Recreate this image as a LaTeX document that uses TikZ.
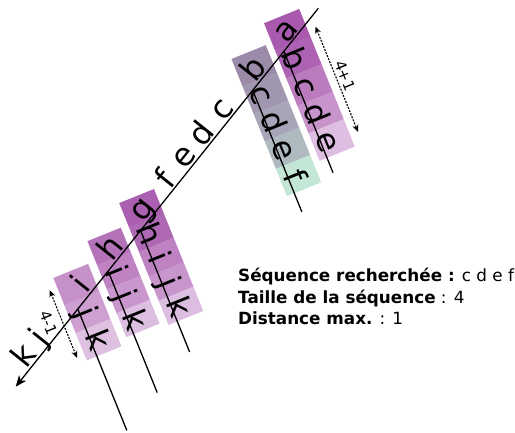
\documentclass[tikz,border=0pt]{standalone}
\usepackage{fontspec}
\setmainfont{DejaVu Sans}
\usetikzlibrary{arrows.meta}
\definecolor{pa}{HTML}{A95AAE}
\definecolor{pb}{HTML}{AE62B3}
\definecolor{pc}{HTML}{BB7BBF}
\definecolor{pd}{HTML}{C994CC}
\definecolor{pe}{HTML}{DFBFE1}
\definecolor{qb}{HTML}{9B8AA8}
\definecolor{qc}{HTML}{A096AF}
\definecolor{qd}{HTML}{A8A5B9}
\definecolor{qe}{HTML}{AFB9C0}
\definecolor{qf}{HTML}{C3E6D7}
\definecolor{rg}{HTML}{AA5FB0}
\definecolor{rh}{HTML}{AF69B4}
\definecolor{ri}{HTML}{BE82C3}
\definecolor{rj}{HTML}{C896CD}
\definecolor{rk}{HTML}{DCBEE1}
\definecolor{sh}{HTML}{B473B9}
\definecolor{si}{HTML}{BF83C3}
\definecolor{sj}{HTML}{C997CD}
\definecolor{sk}{HTML}{DCBEE0}
\definecolor{ti}{HTML}{C591C8}
\definecolor{tj}{HTML}{CDA0D1}
\definecolor{tk}{HTML}{DEC0E1}
\begin{document}
\begin{tikzpicture}[x=1pt,y=1pt,
  lett/.style={font=\fontsize{32}{32}\selectfont, inner sep=0pt, anchor=base},
  mlet/.style={lett, rotate=51.35},
  clet/.style={lett, rotate=-68},
  axisline/.style={line width=1.3pt},
  gaparrow/.style={line width=1.1pt, dash pattern=on 2pt off 1.3pt,
    {Stealth[length=7pt,width=6pt]}-{Stealth[length=7pt,width=6pt]}},
  gaplab/.style={font=\fontsize{15}{15}\selectfont, inner sep=0pt, anchor=base, rotate=-68},
  info/.style={font=\fontsize{16.8}{20}\selectfont, inner sep=0pt, anchor=base west}
]
\useasboundingbox (0,0) rectangle (515,-432);

% main axis frame
\begin{scope}[shift={(318.3,-8.3)}, rotate=231.35]
  \coordinate (T) at (0,0);
  \coordinate (B) at (484.5,0);
  \coordinate (J1) at (55,0);
  \coordinate (J2) at (105,0);
  \coordinate (J3) at (284.6,0);
  \coordinate (J4) at (336.5,0);
  \coordinate (J5) at (385.1,0);
\end{scope}

% column 1 (a b c d e)
\begin{scope}[shift={(J1)}, rotate=-68]
  \fill[pa] (-33.5,-8) rectangle (-3.6,30);
  \fill[pb] (-3.8,-8) rectangle (26.1,30);
  \fill[pc] (25.9,-8) rectangle (55.8,30);
  \fill[pd] (55.6,-8) rectangle (85.5,30);
  \fill[pe] (85.3,-8) rectangle (115,30);
  \coordinate (E1) at (131,0);
  \coordinate (A1s) at (-11,38.5);
  \coordinate (A1e) at (102.4,38.5);
\end{scope}
% column 2 (b c d e f)
\begin{scope}[shift={(J2)}, rotate=-68]
  \fill[qb] (-37,-8) rectangle (-7.2,29);
  \fill[qc] (-7.4,-8) rectangle (22.4,29);
  \fill[qd] (22.2,-8) rectangle (52,29);
  \fill[qe] (51.8,-8) rectangle (81.6,29);
  \fill[qf] (81.4,-8) rectangle (111,29);
  \coordinate (E2) at (131,0);
\end{scope}
% column 3 (g h i j k)
\begin{scope}[shift={(J3)}, rotate=-68]
  \fill[rg] (-33.5,-9.5) rectangle (-7,28);
  \fill[rh] (-7.2,-9.5) rectangle (19.4,28);
  \fill[ri] (19.2,-9.5) rectangle (45.7,28);
  \fill[rj] (45.5,-9.5) rectangle (72,28);
  \fill[rk] (71.8,-9.5) rectangle (98,28);
  \coordinate (E3) at (131,0);
\end{scope}
% column 4 (h i j k)
\begin{scope}[shift={(J4)}, rotate=-68]
  \fill[sh] (-35.5,-8) rectangle (-9.4,28);
  \fill[si] (-9.6,-8) rectangle (16.5,28);
  \fill[sj] (16.3,-8) rectangle (42.3,28);
  \fill[sk] (42.1,-8) rectangle (68,28);
  \coordinate (E4) at (131,0);
\end{scope}
% column 5 (i j k)
\begin{scope}[shift={(J5)}, rotate=-68]
  \fill[ti] (-38,-11) rectangle (-8.1,26.5);
  \fill[tj] (-8.3,-11) rectangle (21.6,26.5);
  \fill[tk] (21.4,-11) rectangle (51,26.5);
  \coordinate (E5) at (131,0);
  \coordinate (A5s) at (-28,-19);
  \coordinate (A5e) at (45,-19);
\end{scope}

% lines
\draw[axisline,-{Stealth[length=11pt,width=9pt,inset=3pt]}] (T) -- (B);
\draw[axisline] (J1) -- (E1);
\draw[axisline] (J2) -- (E2);
\draw[axisline] (J3) -- (E3);
\draw[axisline] (J4) -- (E4);
\draw[axisline] (J5) -- (E5);
\draw[gaparrow] (A1s) -- (A1e);
\draw[gaparrow] (A5s) -- (A5e);

% main letters
\begin{scope}[shift={(318.3,-8.3)}, rotate=231.35]
  \node[mlet] (ma) at (37.7,-2) {a};
  \node[mlet] (mb) at (88.2,-2) {b};
  \node[mlet] (mc) at (138.7,-2) {c};
  \node[mlet] (md) at (170.8,-2) {d};
  \node[mlet] (me) at (199.6,-2) {e};
  \node[mlet] (mf) at (228.8,-2) {f};
  \node[mlet] (mg) at (267.1,-2) {g};
  \node[mlet] (mh) at (316.5,-2) {h};
  \node[mlet] (mi) at (363.5,-2) {i};
  \node[mlet] (mj) at (431.8,-2) {j};
  \node[mlet] (mk) at (455,-2) {k};
\end{scope}

% column letters
\begin{scope}[shift={(J1)}, rotate=-68]
  \node[clet] (c1b) at (11.05,-4) {b};
  \node[clet] (c1c) at (40.75,-4) {c};
  \node[clet] (c1d) at (70.45,-4) {d};
  \node[clet] (c1e) at (100.15,-4) {e};
  \node[gaplab] (l41) at (45.5,42) {4+1};
\end{scope}
\begin{scope}[shift={(J2)}, rotate=-68]
  \node[clet] (c2c) at (7.4,-4) {c};
  \node[clet] (c2d) at (37.1,-4) {d};
  \node[clet] (c2e) at (66.7,-4) {e};
  \node[clet] (c2f) at (96.2,-4) {f};
\end{scope}
\begin{scope}[shift={(J3)}, rotate=-68]
  \node[clet] (c3h) at (6.1,-4) {h};
  \node[clet] (c3i) at (32.4,-4) {i};
  \node[clet] (c3j) at (58.7,-4) {j};
  \node[clet] (c3k) at (85,-4) {k};
\end{scope}
\begin{scope}[shift={(J4)}, rotate=-68]
  \node[clet] (c4i) at (3.5,-4) {i};
  \node[clet] (c4j) at (29.3,-4) {j};
  \node[clet] (c4k) at (55.1,-4) {k};
\end{scope}
\begin{scope}[shift={(J5)}, rotate=-68]
  \node[clet] (c5j) at (6.7,-4) {j};
  \node[clet] (c5k) at (36.3,-4) {k};
  \node[gaplab] (l4m) at (2,-37.5) {4-1};
\end{scope}

% info text
\node[info] (i1) at (238,-281) {\textbf{Séquence recherchée :} c d e f};
\node[info] (i2) at (238,-303) {\textbf{Taille de la séquence} : 4};
\node[info] (i3) at (238,-324.5) {\textbf{Distance max.} : 1};
\end{tikzpicture}
\end{document}
